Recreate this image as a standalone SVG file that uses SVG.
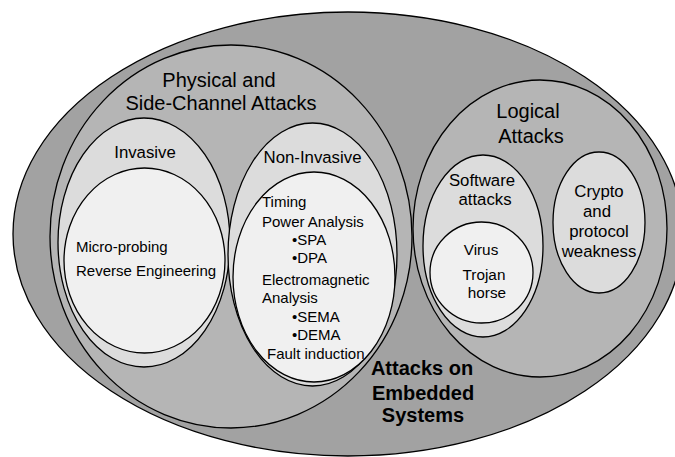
<svg xmlns="http://www.w3.org/2000/svg" width="675" height="457" viewBox="0 0 675 457">
<style>
ellipse{stroke:#000;stroke-width:1.3}
.d{fill:#a2a2a2}.m{fill:#b5b5b5}.l{fill:#dcdcdc}.w{fill:#f0f0f0}
text{font-family:"Liberation Sans",Arial,sans-serif;fill:#000}
.t20{font-size:20px;text-anchor:middle}
.t16{font-size:16.8px;text-anchor:middle}
.t15{font-size:15px}
.b{font-size:20px;font-weight:bold;text-anchor:middle}
</style>
<rect width="675" height="457" fill="#fff"/>
<g id="embedded">
<ellipse class="d" cx="348" cy="234" rx="335" ry="222"/>
<text class="b" x="422" y="375">Attacks on</text>
<text class="b" x="423" y="400">Embedded</text>
<text class="b" x="423" y="422">Systems</text>
</g>
<g id="physical">
<ellipse class="m" cx="231" cy="236.5" rx="181" ry="191.5"/>
<text class="t20" x="219" y="87">Physical and</text>
<text class="t20" x="221" y="110">Side-Channel Attacks</text>
</g>
<g id="logical">
<ellipse class="m" cx="540" cy="228.5" rx="127" ry="148.5"/>
<text class="t20" x="528" y="118">Logical</text>
<text class="t20" x="531" y="143">Attacks</text>
</g>
<g id="invasive">
<ellipse class="l" cx="144" cy="242.5" rx="86" ry="124.5"/>
<text class="t16" x="145" y="158">Invasive</text>
</g>
<g id="invasive-items">
<ellipse class="w" cx="144.5" cy="260.5" rx="80.5" ry="92.5"/>
<text class="t15" x="76" y="252">Micro-probing</text>
<text class="t15" x="76" y="276">Reverse Engineering</text>
</g>
<g id="non-invasive">
<ellipse class="l" cx="312.5" cy="254.5" rx="84.5" ry="131.5"/>
<text class="t16" x="312.5" y="163">Non-Invasive</text>
</g>
<g id="non-invasive-items">
<ellipse class="w" cx="314" cy="277" rx="81" ry="105"/>
<text class="t15" x="262" y="207">Timing</text>
<text class="t15" x="262" y="227">Power Analysis</text>
<text class="t15" x="292" y="245">•SPA</text>
<text class="t15" x="292" y="263">•DPA</text>
<text class="t15" x="262" y="285">Electromagnetic</text>
<text class="t15" x="262" y="303">Analysis</text>
<text class="t15" x="292" y="322">•SEMA</text>
<text class="t15" x="292" y="340">•DEMA</text>
<text class="t15" x="267" y="359">Fault induction</text>
</g>
<g id="software">
<ellipse class="l" cx="483" cy="246" rx="60" ry="91"/>
<text class="t16" x="482" y="186">Software</text>
<text class="t16" x="485" y="205">attacks</text>
</g>
<g id="virus">
<ellipse class="w" cx="481.5" cy="272.5" rx="51.5" ry="50.5"/>
<text class="t16" style="font-size:15.3px" x="481" y="255">Virus</text>
<text class="t16" style="font-size:15.3px" x="484" y="280">Trojan</text>
<text class="t16" style="font-size:15.3px" x="487" y="298">horse</text>
</g>
<g id="crypto">
<ellipse class="l" cx="599" cy="222.5" rx="46" ry="70.5"/>
<text class="t16" x="599" y="197">Crypto</text>
<text class="t16" x="597" y="217">and</text>
<text class="t16" x="599" y="237">protocol</text>
<text class="t16" x="599" y="257">weakness</text>
</g>
<g id="connectors"/>
</svg>
